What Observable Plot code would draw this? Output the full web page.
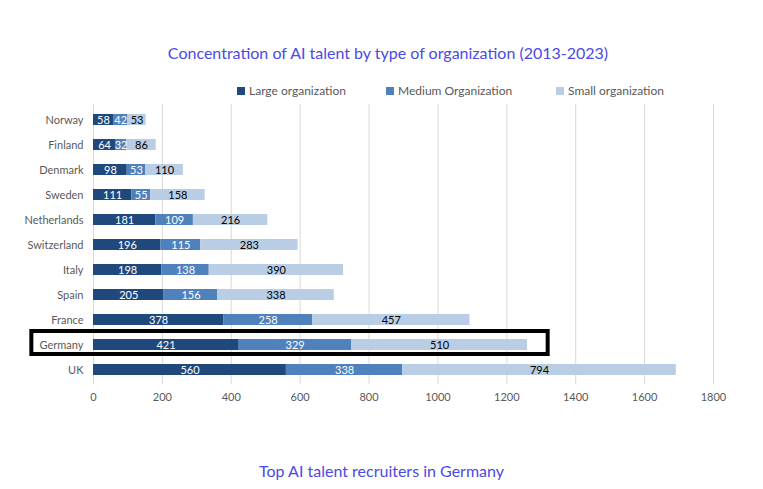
<!DOCTYPE html>
<html>
<head>
<meta charset="utf-8">
<script src="https://cdn.jsdelivr.net/npm/d3@7"></script>
<script src="https://cdn.jsdelivr.net/npm/@observablehq/plot@0.6"></script>
<style>
  html, body { margin: 0; padding: 0; background: #fff; }
  #wrap { position: relative; width: 763px; height: 489px; font-family: Lato, "Open Sans", sans-serif; }
  #chart { position: absolute; left: 0; top: 0; }
  #title { position: absolute; left: 0; top: 43px; width: 763px; padding-left: 13px; box-sizing: border-box; text-align: center; color: #4A4AE6; font-size: 16px; }
  #caption { position: absolute; left: 0; top: 461px; width: 763px; text-align: center; color: #4A4AE6; font-size: 16px; }
  .leg { position: absolute; top: 83px; font-size: 12px; color: #595959; display: flex; align-items: center; white-space: nowrap; }
  .leg span.sw { display: inline-block; width: 8px; height: 8px; margin-right: 4px; }
</style>
</head>
<body>
<div id="wrap">
  <div id="title">Concentration of AI talent by type of organization (2013-2023)</div>
  <div id="legend"></div>
  <div id="chart"></div>
  <div id="caption">Top AI talent recruiters in Germany</div>
</div>
<script>
const countries = ["Norway","Finland","Denmark","Sweden","Netherlands","Switzerland","Italy","Spain","France","Germany","UK"];
const large  = [58, 64, 98, 111, 181, 196, 198, 205, 378, 421, 560];
const medium = [42, 32, 53, 55, 109, 115, 138, 156, 258, 329, 338];
const small  = [53, 86, 110, 158, 216, 283, 390, 338, 457, 510, 794];
const types  = ["Large organization", "Medium Organization", "Small organization"];
const colors = ["#1F497D", "#4F81BD", "#B9CDE5"];
const labelColors = ["#ffffff", "#ffffff", "#000000"];
const xTicks = [0, 200, 400, 600, 800, 1000, 1200, 1400, 1600, 1800];
const highlight = [{country: "Germany", from: -179, to: 1320}];

const series = [large, medium, small];
const data = [];
countries.forEach((c, i) => {
  types.forEach((t, j) => {
    data.push({country: c, type: t, value: series[j][i], label: labelColors[j]});
  });
});

// legend
const legendLefts = [237, 386, 556];
const legend = document.getElementById("legend");
types.forEach((t, j) => {
  const d = document.createElement("div");
  d.className = "leg";
  d.style.left = legendLefts[j] + "px";
  d.innerHTML = `<span class="sw" style="background:${colors[j]}"></span>${t}`;
  legend.appendChild(d);
});

const chart = Plot.plot({
  width: 763,
  height: 489,
  marginLeft: 93,
  marginRight: 50,
  marginTop: 104,
  marginBottom: 105,
  style: {fontFamily: "Lato, 'Open Sans', sans-serif", fontSize: "11px", color: "#595959", background: "transparent"},
  x: {domain: [0, 1800], ticks: xTicks, tickFormat: d => String(d), label: null, tickSize: 0, tickPadding: 9},
  y: {domain: countries, paddingInner: 0.56, paddingOuter: 0.32, label: null, tickSize: 0, tickPadding: 10},
  color: {domain: types, range: colors},
  marks: [
    Plot.gridX(xTicks, {stroke: "#d9d9d9", strokeOpacity: 1}),
    Plot.barX(data, {x: "value", y: "country", fill: "type", order: null}),
    Plot.text(data, Plot.stackX({x: "value", y: "country", z: "type", order: null, text: d => String(d.value), fill: "label", fontSize: 11})),
    Plot.barX(highlight, {x1: "from", x2: "to", y: "country", fill: "none", stroke: "#000", strokeWidth: 4, insetTop: -8, insetBottom: -4, clip: false})
  ]
});
document.getElementById("chart").appendChild(chart);
</script>
</body>
</html>
